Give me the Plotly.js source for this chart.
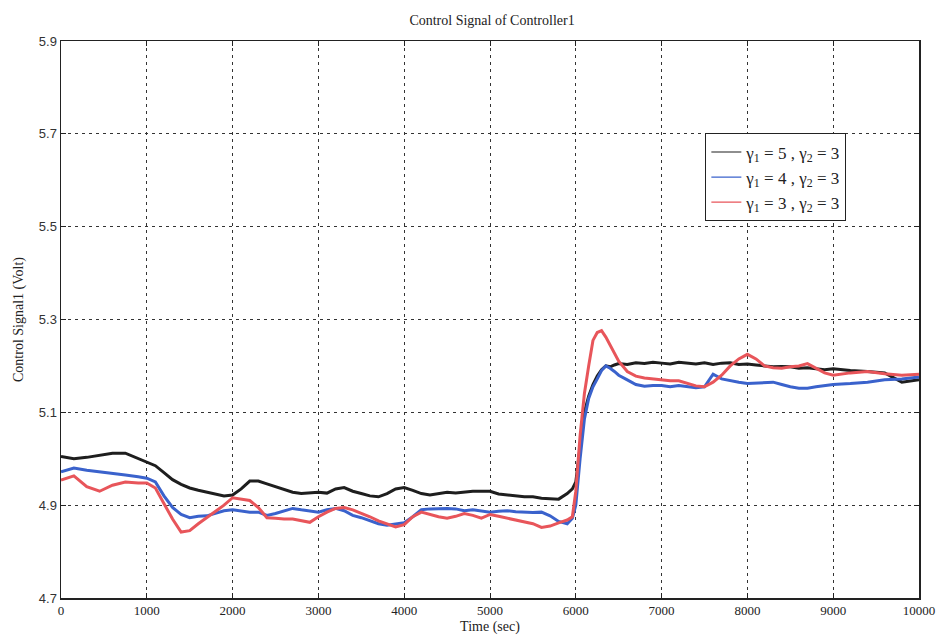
<!DOCTYPE html>
<html>
<head>
<meta charset="utf-8">
<script src="https://cdn.plot.ly/plotly-3.0.1.min.js"></script>
<style>
  html, body { margin: 0; padding: 0; background: #fff; }
  #chart { width: 939px; height: 637px; }
</style>
</head>
<body>
<div id="chart"></div>
<script>
// Sample times (sec), shared by all three runs
const timeSec = [
  0, 150, 300, 450, 600, 750, 900, 1000, 1100, 1200, 1300, 1400, 1500, 1600, 1700, 1800, 1900,
  2000, 2100, 2200, 2300, 2400, 2500, 2600, 2700, 2800, 2900, 3000, 3100, 3200, 3300, 3400, 3500,
  3600, 3700, 3800, 3900, 4000, 4100, 4200, 4300, 4400, 4500, 4600, 4700, 4800, 4900, 5000, 5100,
  5200, 5300, 5400, 5500, 5600, 5700, 5800, 5900, 5960, 6000, 6050, 6100, 6150, 6200, 6250, 6300,
  6350, 6400, 6450, 6500, 6600, 6700, 6800, 6900, 7000, 7100, 7200, 7300, 7400, 7500, 7600, 7700,
  7800, 7900, 8000, 8100, 8200, 8300, 8400, 8500, 8600, 8700, 8800, 8900, 9000, 9200, 9400, 9600,
  9800, 10000
];

// Control signal (Volt), gamma1 = 5, gamma2 = 3
const signalG5 = [
  5.005, 5.000, 5.003, 5.008, 5.012, 5.012, 5.000, 4.993, 4.985, 4.970, 4.955, 4.945, 4.937, 4.932, 4.928, 4.925, 4.920,
  4.922, 4.935, 4.952, 4.952, 4.946, 4.940, 4.933, 4.928, 4.925, 4.927, 4.928, 4.926, 4.935, 4.938, 4.930, 4.925,
  4.920, 4.918, 4.925, 4.935, 4.938, 4.932, 4.925, 4.922, 4.925, 4.928, 4.926, 4.928, 4.930, 4.930, 4.930, 4.924,
  4.922, 4.920, 4.918, 4.918, 4.915, 4.914, 4.913, 4.925, 4.935, 4.950, 5.030, 5.100, 5.135, 5.160, 5.178, 5.192,
  5.200, 5.198, 5.202, 5.205, 5.203, 5.207, 5.205, 5.208, 5.206, 5.204, 5.208, 5.206, 5.204, 5.207, 5.203, 5.206,
  5.207, 5.203, 5.204, 5.202, 5.200, 5.198, 5.199, 5.198, 5.195, 5.196, 5.194, 5.192, 5.194, 5.190, 5.188, 5.185,
  5.165, 5.170
];

// Control signal (Volt), gamma1 = 4, gamma2 = 3
const signalG4 = [
  4.972, 4.980, 4.975, 4.972, 4.968, 4.965, 4.961, 4.958, 4.950, 4.920, 4.895, 4.880, 4.873, 4.876, 4.877, 4.882, 4.888,
  4.890, 4.887, 4.885, 4.885, 4.878, 4.882, 4.888, 4.893, 4.890, 4.887, 4.885, 4.890, 4.893, 4.888, 4.878, 4.873,
  4.866, 4.860, 4.857, 4.860, 4.862, 4.875, 4.890, 4.892, 4.893, 4.893, 4.892, 4.888, 4.890, 4.887, 4.885, 4.887,
  4.888, 4.886, 4.885, 4.884, 4.885, 4.877, 4.865, 4.860, 4.872, 4.900, 5.000, 5.085, 5.130, 5.155, 5.172, 5.190,
  5.200, 5.195, 5.188, 5.180, 5.170, 5.160, 5.156, 5.158, 5.158, 5.155, 5.158, 5.155, 5.153, 5.155, 5.182, 5.172,
  5.168, 5.165, 5.162, 5.163, 5.165, 5.165, 5.160, 5.155, 5.152, 5.152, 5.155, 5.158, 5.160, 5.162, 5.165, 5.170,
  5.172, 5.176
];

// Control signal (Volt), gamma1 = 3, gamma2 = 3
const signalG3 = [
  4.954, 4.963, 4.940, 4.930, 4.943, 4.950, 4.948, 4.948, 4.937, 4.905, 4.870, 4.842, 4.845, 4.860, 4.873, 4.886, 4.900,
  4.916, 4.913, 4.910, 4.895, 4.873, 4.872, 4.870, 4.870, 4.866, 4.863, 4.875, 4.885, 4.893, 4.895, 4.890, 4.883,
  4.875, 4.866, 4.860, 4.853, 4.858, 4.875, 4.885, 4.880, 4.875, 4.872, 4.876, 4.882, 4.878, 4.872, 4.880, 4.876,
  4.872, 4.868, 4.865, 4.860, 4.852, 4.855, 4.862, 4.868, 4.875, 4.930, 5.050, 5.140, 5.200, 5.255, 5.272, 5.276,
  5.262, 5.245, 5.228, 5.210, 5.188, 5.178, 5.174, 5.172, 5.170, 5.168, 5.168, 5.163, 5.157, 5.155, 5.165, 5.180,
  5.200, 5.215, 5.225, 5.215, 5.200, 5.196, 5.195, 5.198, 5.200, 5.205, 5.195, 5.185, 5.180, 5.185, 5.188, 5.183,
  5.180, 5.182
];

const seriesNames = [
  'γ<sub>1</sub> = 5 , γ<sub>2</sub> = 3',
  'γ<sub>1</sub> = 4 , γ<sub>2</sub> = 3',
  'γ<sub>1</sub> = 3 , γ<sub>2</sub> = 3'
];
const seriesColors = ['#1e1e1e', '#3a62cc', '#e8555a'];
const seriesValues = [signalG5, signalG4, signalG3];

// Thick noisy-looking signal lines, kept out of the legend
const dataTraces = seriesValues.map((vals, i) => ({
  x: timeSec,
  y: vals,
  type: 'scatter',
  mode: 'lines',
  name: seriesNames[i],
  showlegend: false,
  legendgroup: 'g' + i,
  line: { color: seriesColors[i], width: 3 }
}));

// Legend keys drawn with a thin line
const keyTraces = seriesNames.map((name, i) => ({
  x: [null],
  y: [null],
  type: 'scatter',
  mode: 'lines',
  name: name,
  legendgroup: 'g' + i,
  line: { color: seriesColors[i], width: 1.2 }
}));

const serif = 'Liberation Serif, Times New Roman, serif';
const sans = 'Liberation Sans, Arial, sans-serif';

const layout = {
  width: 939,
  height: 637,
  margin: { l: 61, r: 20, t: 41, b: 39 },
  paper_bgcolor: '#ffffff',
  plot_bgcolor: '#ffffff',
  title: {
    text: 'Control Signal of Controller1',
    font: { family: serif, size: 14, color: '#222' },
    x: 0.524, xanchor: 'center', y: 0.968, yanchor: 'middle'
  },
  xaxis: {
    range: [0, 10000],
    tick0: 0, dtick: 1000, tickformat: 'd',
    ticks: 'inside', ticklen: 5, tickcolor: '#222',
    showline: true, linecolor: '#222', linewidth: 1.5, mirror: 'ticks',
    showgrid: true, gridcolor: '#333', gridwidth: 1, griddash: '3px,4px',
    zeroline: false,
    tickfont: { family: serif, size: 13, color: '#222' },
    title: { text: 'Time (sec)', font: { family: serif, size: 14, color: '#222' }, standoff: 4 }
  },
  yaxis: {
    range: [4.7, 5.9],
    tick0: 4.7, dtick: 0.2, tickformat: '.1f',
    ticks: 'inside', ticklen: 5, tickcolor: '#222',
    showline: true, linecolor: '#222', linewidth: 1.5, mirror: 'ticks',
    showgrid: true, gridcolor: '#333', gridwidth: 1, griddash: '3px,4px',
    zeroline: false,
    tickfont: { family: sans, size: 13, color: '#333' },
    title: { text: 'Control Signal1 (Volt)', font: { family: serif, size: 14, color: '#222' }, standoff: 12 }
  },
  legend: {
    x: 0.751, y: 0.834, xanchor: 'left', yanchor: 'top',
    bgcolor: '#ffffff', bordercolor: '#222', borderwidth: 1,
    font: { family: serif, size: 17, color: '#222' },
    tracegroupgap: 0
  },
  showlegend: true
};

Plotly.newPlot('chart', dataTraces.concat(keyTraces), layout, { displayModeBar: false, staticPlot: true });
</script>
</body>
</html>
